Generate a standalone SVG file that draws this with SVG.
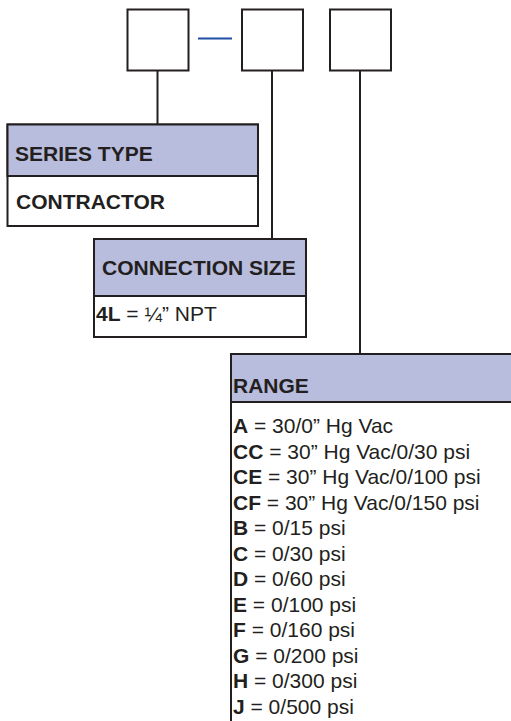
<svg xmlns="http://www.w3.org/2000/svg" width="511" height="721" viewBox="0 0 511 721">
<style>
.bx{fill:#fff;stroke:#231f20;stroke-width:2}
.hd{fill:#b8bcdd;stroke:#231f20;stroke-width:2}
.ln{stroke:#231f20;stroke-width:2;fill:none}
.ht{font-family:"Liberation Sans",Arial,sans-serif;font-weight:bold;font-size:21px;fill:#231f20}
.tx{font-family:"Liberation Sans",Arial,sans-serif;font-size:21px;fill:#231f20}
.b{font-weight:bold}
</style>
<rect width="511" height="721" fill="#fff"/>
<g id="code-boxes">
<rect class="bx" x="127.5" y="9.5" width="61" height="61"/>
<rect class="bx" x="242" y="9.5" width="61" height="61"/>
<rect class="bx" x="330" y="9.5" width="61" height="61"/>
<line x1="198" y1="38.5" x2="232" y2="38.5" stroke="#1e4fa3" stroke-width="2"/>
</g>
<g id="connectors">
<line class="ln" x1="157.5" y1="70" x2="157.5" y2="124"/>
<line class="ln" x1="272" y1="70" x2="272" y2="239"/>
<line class="ln" x1="360" y1="70" x2="360" y2="354"/>
</g>
<g id="series-type">
<rect class="bx" x="7.5" y="124.5" width="250.5" height="101.5"/>
<rect class="hd" x="7.5" y="124.5" width="250.5" height="51.5"/>
<text class="ht" x="15" y="161">SERIES TYPE</text>
<text class="ht" x="16" y="209">CONTRACTOR</text>
</g>
<g id="connection-size">
<rect class="bx" x="94" y="239" width="212" height="98"/>
<rect class="hd" x="94" y="239" width="212" height="57"/>
<text class="ht" x="102" y="275">CONNECTION SIZE</text>
<text class="tx" x="96" y="321" font-size="20.5"><tspan class="b">4L</tspan> = ¼” NPT</text>
</g>
<g id="range">
<rect class="bx" x="231" y="354" width="290" height="380"/>
<rect class="hd" x="231" y="354" width="290" height="48"/>
<text class="ht" x="233" y="393">RANGE</text>
<text class="tx" x="233" y="433"><tspan class="b">A</tspan> = 30/0” Hg Vac</text>
<text class="tx" x="233" y="458.5"><tspan class="b">CC</tspan> = 30” Hg Vac/0/30 psi</text>
<text class="tx" x="233" y="484"><tspan class="b">CE</tspan> = 30” Hg Vac/0/100 psi</text>
<text class="tx" x="233" y="509.5"><tspan class="b">CF</tspan> = 30” Hg Vac/0/150 psi</text>
<text class="tx" x="233" y="535"><tspan class="b">B</tspan> = 0/15 psi</text>
<text class="tx" x="233" y="560.5"><tspan class="b">C</tspan> = 0/30 psi</text>
<text class="tx" x="233" y="586"><tspan class="b">D</tspan> = 0/60 psi</text>
<text class="tx" x="233" y="611.5"><tspan class="b">E</tspan> = 0/100 psi</text>
<text class="tx" x="233" y="637"><tspan class="b">F</tspan> = 0/160 psi</text>
<text class="tx" x="233" y="662.5"><tspan class="b">G</tspan> = 0/200 psi</text>
<text class="tx" x="233" y="688"><tspan class="b">H</tspan> = 0/300 psi</text>
<text class="tx" x="233" y="713.5"><tspan class="b">J</tspan> = 0/500 psi</text>
</g>
</svg>
